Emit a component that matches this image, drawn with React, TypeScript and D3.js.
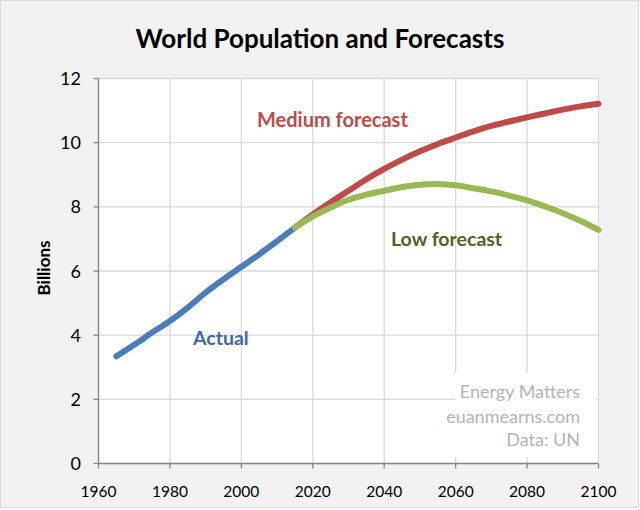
import React from "react";
import * as d3 from "d3";

const actualYears = [1965, 1970, 1975, 1980, 1985, 1990, 1995, 2000, 2005, 2010, 2015];
const actualValues = [3.34, 3.70, 4.08, 4.44, 4.86, 5.33, 5.74, 6.13, 6.52, 6.93, 7.35];

const mediumYears = [2015, 2020, 2025, 2030, 2035, 2040, 2045, 2050, 2055, 2060, 2065, 2070, 2075, 2080, 2085, 2090, 2095, 2100];
const mediumValues = [7.35, 7.76, 8.14, 8.50, 8.86, 9.18, 9.47, 9.73, 9.96, 10.16, 10.35, 10.52, 10.66, 10.79, 10.91, 11.03, 11.13, 11.21];

const lowYears = [2015, 2020, 2025, 2030, 2035, 2040, 2045, 2050, 2055, 2060, 2065, 2070, 2075, 2080, 2085, 2090, 2095, 2100];
const lowValues = [7.35, 7.70, 7.98, 8.22, 8.38, 8.50, 8.62, 8.69, 8.71, 8.67, 8.58, 8.48, 8.35, 8.20, 8.01, 7.80, 7.56, 7.28];

const xTicks = [1960, 1980, 2000, 2020, 2040, 2060, 2080, 2100];
const yTicks = [0, 2, 4, 6, 8, 10, 12];

const FONT = "Lato, 'Open Sans', sans-serif";

export default function App() {
  const W = 640, H = 510;
  const left = 98.5, right = 598.5, top = 78.5, bottom = 463.5;
  const x = d3.scaleLinear().domain([1960, 2100]).range([left, right]);
  const y = d3.scaleLinear().domain([0, 12]).range([bottom, top]);
  const line = d3.line<[number, number]>().x(d => x(d[0])).y(d => y(d[1])).curve(d3.curveCatmullRom);
  const zip = (a: number[], b: number[]) => a.map((v, i) => [v, b[i]] as [number, number]);

  return (
    <svg width={W} height={H} style={{ position: "absolute", left: 0, top: 0 }}>
      <rect x={0.5} y={0.5} width={638} height={507} fill="#f2f2f2" stroke="#d9d9d9" />
      <rect x={left} y={top} width={right - left} height={bottom - top} fill="#ffffff" />
      {xTicks.map(t => (
        <line key={"gx" + t} x1={x(t)} x2={x(t)} y1={top} y2={bottom} stroke="#d9d9d9" strokeWidth={1.3} />
      ))}
      {yTicks.map(t => (
        <line key={"gy" + t} x1={left} x2={right} y1={y(t)} y2={y(t)} stroke="#d9d9d9" strokeWidth={1.3} />
      ))}
      <rect x={455} y={373} width={141} height={84} fill="#ffffff" />
      <g fontFamily={FONT} fontSize={18} fill="#b3b3b3" textAnchor="end">
        <text x={580} y={398}>Energy Matters</text>
        <text x={580} y={423}>euanmearns.com</text>
        <text x={580} y={446}>Data: UN</text>
      </g>
      <line x1={left} x2={left} y1={top} y2={bottom} stroke="#868686" strokeWidth={1.3} />
      <line x1={left} x2={right} y1={bottom} y2={bottom} stroke="#868686" strokeWidth={1.3} />
      {yTicks.map(t => (
        <line key={"ty" + t} x1={left - 5} x2={left} y1={y(t)} y2={y(t)} stroke="#868686" strokeWidth={1.3} />
      ))}
      {xTicks.map(t => (
        <line key={"tx" + t} x1={x(t)} x2={x(t)} y1={bottom} y2={bottom + 5} stroke="#868686" strokeWidth={1.3} />
      ))}
      <path d={line(zip(actualYears, actualValues)) || ""} fill="none" stroke="#4a7ebb" strokeWidth={6} strokeLinecap="round" />
      <path d={line(zip(mediumYears, mediumValues)) || ""} fill="none" stroke="#be4b48" strokeWidth={6} strokeLinecap="round" />
      <path d={line(zip(lowYears, lowValues)) || ""} fill="none" stroke="#98b954" strokeWidth={6} strokeLinecap="round" />
      <g fontFamily={FONT} fontSize={18} fill="#000" textAnchor="end">
        {yTicks.map(t => (
          <text key={"ly" + t} x={81} y={y(t) + 6.5}>{t}</text>
        ))}
      </g>
      <g fontFamily={FONT} fontSize={15.5} fill="#000" textAnchor="middle">
        {xTicks.map(t => (
          <text key={"lx" + t} x={x(t)} y={497}>{t}</text>
        ))}
      </g>
      <text x={320} y={48} textAnchor="middle" fontFamily={FONT} fontSize={26} fontWeight="bold" fill="#000">World Population and Forecasts</text>
      <text transform="translate(50,268) rotate(-90)" textAnchor="middle" fontFamily={FONT} fontSize={17} fontWeight="bold" fill="#000">Billions</text>
      <text x={257} y={127} fontFamily={FONT} fontSize={20} fontWeight="bold" fill="#be4b48">Medium forecast</text>
      <text x={391} y={246} fontFamily={FONT} fontSize={19.5} fontWeight="bold" fill="#4f6228">Low forecast</text>
      <text x={193} y={345} fontFamily={FONT} fontSize={19.5} fontWeight="bold" fill="#3e6aad">Actual</text>
    </svg>
  );
}
